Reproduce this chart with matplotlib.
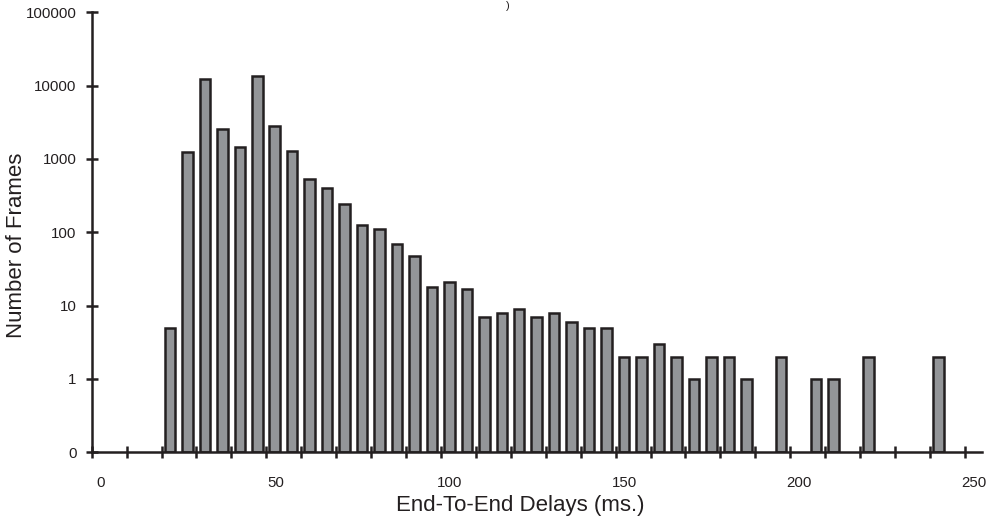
import matplotlib
matplotlib.use("Agg")
import matplotlib.pyplot as plt
import matplotlib.transforms as mtransforms

plt.rcParams['font.family'] = ['Liberation Sans', 'DejaVu Sans']

# Data: histogram bins (ms, bin start) and frame counts
bin_starts = [20, 25, 30, 35, 40, 45, 50, 55, 60, 65, 70, 75, 80, 85, 90, 95,
              100, 105, 110, 115, 120, 125, 130, 135, 140, 145, 150, 155, 160,
              165, 170, 175, 180, 185, 195, 205, 210, 220, 240]
counts = [5, 1230, 12200, 2540, 1470, 13700, 2820, 1285, 528, 406, 241, 125,
          111, 69, 47, 18, 21, 17, 7, 8, 9, 7, 8, 6, 5, 5, 2, 2, 3, 2, 1, 2,
          2, 1, 2, 1, 1, 2, 2]

y_ticks = [0.1, 1, 10, 100, 1000, 10000, 100000]
y_tick_labels = ['0', '1', '10', '100', '1000', '10000', '100000']
x_major = [0, 50, 100, 150, 200, 250]

W, H, DPI = 989, 523, 100
fig = plt.figure(figsize=(W / DPI, H / DPI), dpi=DPI)
ax = fig.add_axes([91.7 / W, (H - 452.3) / H, 890 / W, 440 / H])

base = 0.1
centers = [b + 2.4 for b in bin_starts]
heights = [c - base for c in counts]
ax.bar(centers, heights, bottom=base, width=3.0, color='#939598',
       edgecolor='#231f20', linewidth=1.8, zorder=2)

ax.set_yscale('log')
ax.set_ylim(0.1, 100000)
ax.set_xlim(0, 254.8)
ax.yaxis.set_minor_locator(matplotlib.ticker.NullLocator())
ax.set_yticks(y_ticks)
ax.set_yticklabels(y_tick_labels)

ax.set_xticks(list(range(0, 251, 10)))
ax.set_xticklabels([str(v) if v in x_major else '' for v in range(0, 251, 10)])
ax.xaxis.set_minor_locator(matplotlib.ticker.NullLocator())

for s in ['top', 'right']:
    ax.spines[s].set_visible(False)
for s in ['left', 'bottom']:
    ax.spines[s].set_linewidth(1.8)
    ax.spines[s].set_color('#231f20')
    ax.spines[s].set_zorder(3)

ax.tick_params(axis='both', direction='inout', length=8.6, width=1.8,
               color='#231f20', labelsize=10.8, labelcolor='#231f20')
ax.tick_params(axis='x', pad=13)
ax.tick_params(axis='y', pad=6.5)

offset = mtransforms.ScaledTranslation(9 / DPI, 0, fig.dpi_scale_trans)
for lab in ax.get_xticklabels():
    lab.set_transform(lab.get_transform() + offset)

fig.text(520 / W, 1 - 506 / H, 'End-To-End Delays (ms.)', ha='center',
         va='center', fontsize=16, color='#231f20')
fig.text(17 / W, 1 - 245 / H, 'Number of Frames', ha='center', va='center',
         rotation=90, fontsize=16, color='#231f20')
fig.text(508 / W, 1 - 6 / H, ')', ha='center', va='center', fontsize=8,
         color='#231f20')

fig.savefig('out.png', dpi=DPI)
